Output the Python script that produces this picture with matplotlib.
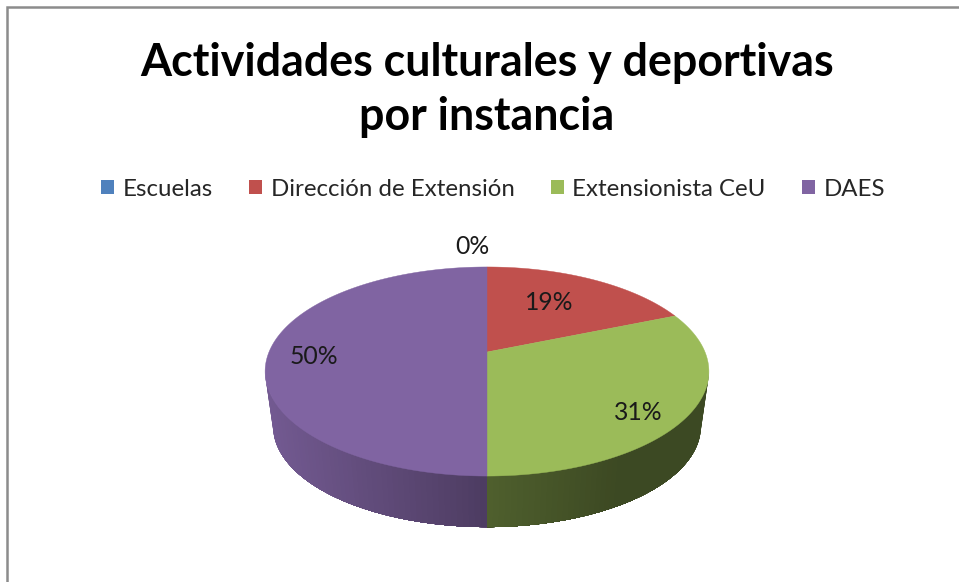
import numpy as np
import matplotlib
matplotlib.use("Agg")
import matplotlib.pyplot as plt
from matplotlib.patches import Polygon, Patch
from matplotlib.collections import PolyCollection
from matplotlib.colors import to_rgb

title = "Actividades culturales y deportivas\npor instancia"
categories = ["Escuelas", "Dirección de Extensión", "Extensionista CeU", "DAES"]
values = [0, 18.75, 31.25, 50]
colors = ["#4F81BD", "#C0504D", "#9BBB59", "#8064A2"]
label_xy = [(472, 247), (549, 303), (638, 412), (314, 357)]

plt.rcParams["font.family"] = ["Lato", "DejaVu Sans"]
W, H = 959, 582
fig = plt.figure(figsize=(W / 100, H / 100), dpi=100, facecolor="white")
ax = fig.add_axes([0, 0, 1, 1])
ax.set_xlim(0, W)
ax.set_ylim(H, 0)
ax.axis("off")

# Frame (open on the right and at the bottom)
ax.plot([6.5, 6.5, W], [H, 7, 7], color="#8C8C8C", lw=1.8, solid_joinstyle="miter")

# Perspective projection of the pie disc
CX, APEX_Y, RX, RY, P = 487, 352, 218, 100.9, 0.1866
DEPTH_APEX_Y, DEPTH_SCALE = 407.5, 0.964


def project(frac, r=1.0, scale=1.0, y0=APEX_Y):
    """frac: clockwise share of the circle starting at 12 o'clock."""
    a = 2 * np.pi * np.asarray(frac)
    x, y = r * np.sin(a), r * np.cos(a)
    d = 1 + P * y
    return CX + scale * RX * x / d, y0 - scale * RY * y / d


total = sum(values)
edges = np.cumsum([0] + values) / total

# Front wall: overlapping strips shaded towards the centre of the pie,
# painted from both outer ends so that no seams show.
front_start = 0.25 + np.arcsin(P) / (2 * np.pi)
front_end = 0.75 - np.arcsin(P) / (2 * np.pi)
ts = np.linspace(front_start, front_end, 121)
mid = 0.5
strips = []
for t0, t1 in zip(ts[:-1], ts[1:]):
    tm = (t0 + t1) / 2
    idx = np.searchsorted(edges, tm) - 1
    base = np.array(to_rgb(colors[idx]))
    xm, _ = project(tm)
    u = (xm - CX) / 222
    if u < 0:
        f = 0.60 + (0.90 - 0.60) * (-u)
    else:
        f = 0.51 - 0.12 * min(1, u / 0.6)
    # extend each strip towards the centre of the wall, it is overpainted by the next one
    a, b = (t0, mid) if tm < mid else (mid, t1)
    tt = np.linspace(a, b, 40)
    strips.append((abs(tm - mid), tt, base * f))

# paint outer strips first, then work inwards
polys, faces = [], []
for _, tt, col in sorted(strips, key=lambda s: -s[0]):
    xt, yt = project(tt)
    xb, yb = project(tt[::-1], scale=DEPTH_SCALE, y0=DEPTH_APEX_Y)
    polys.append(np.column_stack([np.r_[xt, xb], np.r_[yt, yb]]))
    faces.append(col)
ax.add_collection(PolyCollection(polys, facecolors=faces, edgecolors="none", linewidths=0))

# Top face
for i, v in enumerate(values):
    if v == 0:
        continue
    t = np.linspace(edges[i], edges[i + 1], 200)
    x, y = project(t)
    pts = np.column_stack([np.r_[CX, x], np.r_[APEX_Y, y]])
    ax.add_patch(Polygon(pts, closed=True, facecolor=colors[i], edgecolor=colors[i], lw=0.3, zorder=3))

# Data labels
for v, (lx, ly) in zip(values, label_xy):
    ax.text(lx, ly, f"{int(v + 0.5)}%", ha="center", va="center", fontsize=17.8,
            color="#1A1A1A", zorder=4)

ax.text(487, 90, title, ha="center", va="center", fontsize=32.2, fontweight="bold",
        color="black", linespacing=1.33)

handles = [Patch(facecolor=c, edgecolor="none") for c in colors]
ax.legend(handles, categories, ncols=4, loc="center", bbox_to_anchor=(493 / W, 1 - 189 / H),
          frameon=False, fontsize=17.3, handlelength=0.55, handleheight=0.55,
          handletextpad=0.35, columnspacing=1.5, labelcolor="#262626", borderpad=0)

fig.savefig("out.png", dpi=100, facecolor="white")
